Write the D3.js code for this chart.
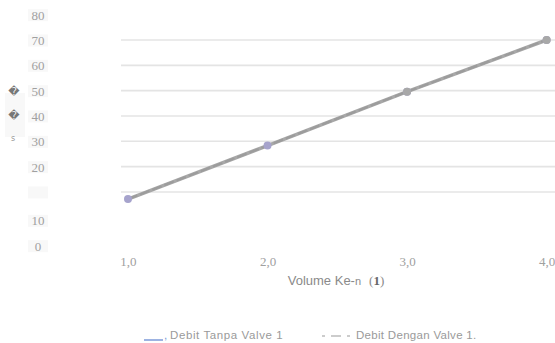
<!DOCTYPE html>
<html>
<head>
<meta charset="utf-8">
<script src="https://cdn.jsdelivr.net/npm/d3@7"></script>
<style>
  html, body { margin: 0; padding: 0; background: #ffffff; }
  svg { display: block; }
</style>
</head>
<body>
<svg id="chart" width="555" height="343"></svg>
<script>
// Volume index on the x axis
const volumes = [1, 2, 3, 4];
const volumeLabels = ["1,0", "2,0", "3,0", "4,0"];

// Flow (debit) per volume, without and with valve 1
const debitTanpaValve = [7.2, 28.3, 49.6, 70.0];
const debitDenganValve = [7.2, 28.3, 49.6, 70.0];

// Horizontal gridline values
const gridValues = [10, 20, 30, 40, 50, 60, 70];

// Y tick slots as printed down the left side
const yTickValues = [80, 70, 60, 50, 40, 30, 20, 10, 0, -10];
const yTickLabels = ["80", "70", "60", "50", "40", "30", "20", "", "10", "0"];

const legendLabels = ["Debit Tanpa Valve 1", "Debit Dengan Valve 1."];

const svg = d3.select("#chart");

const x = d3.scaleLinear().domain([0.95, 4.06]).range([121, 555]);
const y = d3.scaleLinear().domain([0, 70]).range([217.3, 40]);

// gridlines
svg.append("g")
  .selectAll("line")
  .data(gridValues)
  .join("line")
  .attr("x1", x(0.95)).attr("x2", x(4.06))
  .attr("y1", d => y(d)).attr("y2", d => y(d))
  .attr("stroke", "#e4e4e4")
  .attr("stroke-width", 1.6);

// y axis (labels only)
const yAxis = d3.axisLeft(y)
  .tickValues(yTickValues)
  .tickFormat((d, i) => yTickLabels[i])
  .tickSize(0)
  .tickPadding(0);

const yg = svg.append("g").attr("transform", "translate(38,0)").call(yAxis);
yg.select(".domain").remove();
yg.selectAll(".tick")
  .attr("transform", (d, i) => `translate(0,${y(d) + (i >= 8 ? 3.5 : 0.5)})`);
yg.selectAll(".tick text")
  .attr("text-anchor", "middle")
  .attr("x", 0)
  .attr("dy", "0.35em")
  .attr("fill", "#a0a0a0")
  .attr("font-family", "Liberation Serif, serif")
  .attr("font-size", 13);
yg.selectAll(".tick").insert("rect", "text")
  .attr("x", -10).attr("y", -6).attr("width", 20).attr("height", 12)
  .attr("fill", "#f8f8f8");

// y axis title (garbled glyphs down the left edge)
svg.append("rect").attr("x", 5).attr("y", 93).attr("width", 20).attr("height", 44).attr("fill", "#f8f8f8");
const yTitle = svg.append("g").attr("fill", "#777").attr("font-family", "DejaVu Sans, sans-serif");
yTitle.append("text").attr("x", 14).attr("y", 91).attr("dy", "0.35em")
  .attr("text-anchor", "middle").attr("font-size", 11).text("\uFFFD");
yTitle.append("text").attr("x", 14).attr("y", 115).attr("dy", "0.35em")
  .attr("text-anchor", "middle").attr("font-size", 11).text("\uFFFD");
yTitle.append("text").attr("x", 13).attr("y", 138).attr("dy", "0.35em")
  .attr("text-anchor", "middle").attr("font-size", 8).attr("fill", "#999").text("s");

// x axis (labels only)
const xAxis = d3.axisBottom(x)
  .tickValues(volumes)
  .tickFormat((d, i) => volumeLabels[i])
  .tickSize(0)
  .tickPadding(0);
const xg = svg.append("g").attr("transform", "translate(0,261)").call(xAxis);
xg.select(".domain").remove();
xg.selectAll(".tick text")
  .attr("y", 0)
  .attr("dy", "0.35em")
  .attr("fill", "#a0a0a0")
  .attr("font-family", "Liberation Serif, serif")
  .attr("font-size", 13);

// x axis title
const xt = svg.append("text")
  .attr("x", 336).attr("y", 280).attr("dy", "0.35em")
  .attr("text-anchor", "middle")
  .attr("fill", "#8a8a8a")
  .attr("font-family", "Liberation Sans, Arial, sans-serif")
  .attr("font-size", 13);
xt.append("tspan").text("Volume Ke-");
xt.append("tspan").attr("font-size", 11).text("n");
xt.append("tspan").attr("font-family", "Liberation Serif, serif").attr("dx", 8).text("(");
xt.append("tspan").attr("font-family", "Liberation Serif, serif").attr("font-weight", "bold").attr("fill", "#666").text("1");
xt.append("tspan").attr("font-family", "Liberation Serif, serif").text(")");

// lines
const line = d3.line()
  .x((d, i) => x(volumes[i]))
  .y(d => y(d));

svg.append("path")
  .datum(debitTanpaValve)
  .attr("d", line)
  .attr("fill", "none")
  .attr("stroke", "#a8a8a8")
  .attr("stroke-width", 3.6);

svg.append("path")
  .datum(debitDenganValve)
  .attr("d", line)
  .attr("fill", "none")
  .attr("stroke", "#9c9c9c")
  .attr("stroke-width", 2.2)
  .attr("stroke-dasharray", "10,3");

// markers
svg.append("g")
  .selectAll("circle")
  .data(debitTanpaValve)
  .join("circle")
  .attr("cx", (d, i) => x(volumes[i]))
  .attr("cy", d => y(d))
  .attr("r", 4)
  .attr("fill", "#a6a3cc");

svg.append("g")
  .selectAll("circle")
  .data(debitDenganValve.slice(2))
  .join("circle")
  .attr("cx", (d, i) => x(volumes[i + 2]))
  .attr("cy", d => y(d))
  .attr("r", 4)
  .attr("fill", "#a8a8a8");

// legend
const legend = svg.append("g")
  .attr("font-family", "Liberation Sans, Arial, sans-serif")
  .attr("font-size", 11.5)
  .attr("fill", "#9a9a9a");

legend.append("line")
  .attr("x1", 144).attr("x2", 163).attr("y1", 340).attr("y2", 340)
  .attr("stroke", "#7c9ad8").attr("stroke-width", 1.5);
legend.append("text").attr("x", 164).attr("y", 339).attr("fill", "#7c9ad8").text(",");
legend.append("text").attr("x", 170).attr("y", 339)
  .attr("letter-spacing", 0.6).text(legendLabels[0]);

legend.append("line")
  .attr("x1", 322).attr("x2", 353).attr("y1", 336).attr("y2", 336)
  .attr("stroke", "#9a9a9a").attr("stroke-width", 1.2)
  .attr("stroke-dasharray", "3,6,10,6,3,40");
legend.append("text").attr("x", 356).attr("y", 339)
  .attr("letter-spacing", 0.3).text(legendLabels[1]);
</script>
</body>
</html>
